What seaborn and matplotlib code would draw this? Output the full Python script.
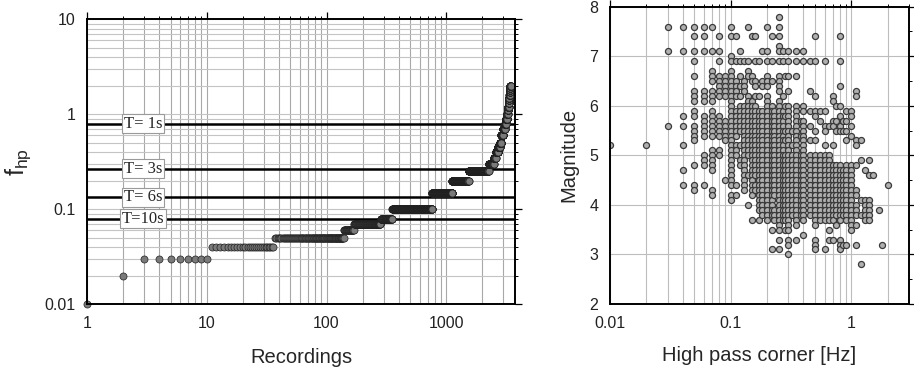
import numpy as np
import pandas as pd
import matplotlib
matplotlib.use("Agg")
import matplotlib.pyplot as plt
import matplotlib.ticker as mticker
import seaborn as sns

# ---------------- data: left panel (sorted high-pass corner per recording) ----------------
step_levels = [0.01, 0.02, 0.03, 0.04, 0.05, 0.06, 0.07, 0.08, 0.10, 0.15, 0.20, 0.25, 0.30,
               0.35, 0.40, 0.45, 0.50, 0.60, 0.70, 0.80, 0.90, 1.0, 1.1, 1.2, 1.3, 1.4, 1.5,
               1.6, 1.7, 1.8, 1.9, 2.0]
step_counts = [1, 1, 8, 26, 103, 30, 113, 71, 407, 360, 415, 719, 229,
               97, 120, 90, 90, 110, 80, 70, 60, 50, 35, 30, 20, 15, 20,
               15, 15, 15, 15, 15]
period_T = [1, 3, 6, 10]
period_labels = ["T= 1s", "T= 3s", "T= 6s", "T=10s"]

# ---------------- data: right panel (high-pass corner vs magnitude) ----------------
hp_corner = [0.01, 0.02, 0.03, 0.04, 0.05, 0.06, 0.07, 0.08, 0.09, 0.10,
             0.11, 0.12, 0.13, 0.14, 0.15, 0.16, 0.17, 0.18, 0.20, 0.22,
             0.23, 0.25, 0.27, 0.28, 0.30, 0.32, 0.35, 0.38, 0.40, 0.45,
             0.50, 0.55, 0.60, 0.65, 0.70, 0.75, 0.80, 0.85, 0.90, 1.0,
             1.1, 1.2, 1.3, 1.4, 1.5, 1.7, 1.8, 2.0]
magnitudes = [
    "5.2",
    "5.2",
    "7.6 7.1 5.6",
    "7.6 7.1 5.8 5.6 5.2 4.7 4.4",
    "7.6 7.4 7.1 6.9 6.6 6.3 6.2 6.1 5.9 5.8 5.6 5.5 5.4 5.3 4.8 4.4 4.3",
    "7.6 7.4 7.1 6.3 6.2 6.1 5.8 5.7 5.6 5.5 5.4 5.0 4.9 4.8 4.4",
    "7.6 7.1 6.7 6.6 6.5 6.3 6.2 6.1 5.9 5.8 5.7 5.6 5.5 5.4 5.1 5.0 4.9 4.8 4.7 4.3 4.2",
    "7.4 7.1 6.9 6.6-6.2 5.8-5.4 5.1 5.0",
    "6.6-6.2 5.7-5.3 4.5",
    "7.6 7.4 7.0 6.9 6.7-4.4 4.2 4.1",
    "7.4 6.9 6.5-6.2 5.9-5.4 5.2 5.1 5.0 4.4 4.2",
    "7.1 6.9 6.6 6.4 6.2 6.0-5.5 5.2 4.9 4.8",
    "6.9 6.5 6.4 6.3 6.0-4.3",
    "7.6 6.9 6.7 6.6 6.2 6.1 6.0-5.0 4.6 4.0",
    "7.4 6.6 6.5 6.1-4.2 3.7",
    "7.4 6.9 6.5 6.4 6.2 6.0-4.6 4.4 4.3",
    "6.9 6.2 5.9-3.9 3.7",
    "7.1 6.5 6.4 5.9-3.8",
    "7.6 7.1 6.9 6.6 6.5 6.4 6.2 6.1-3.7",
    "7.4 6.9 6.5 6.0-3.8 3.5 3.1",
    "5.9-4.2 3.9-3.7",
    "7.8 7.6 7.4 7.2 7.1 6.9 6.6 6.5 6.4 6.3 6.1 6.0-3.6 3.5 3.3 3.1",
    "7.1 6.9 6.2 5.9-3.7",
    "6.6 6.0 5.8 5.5 5.3 5.0-3.7 3.5",
    "7.1 6.9 6.6 6.3 6.0-3.6 3.5 3.3 3.2 3.0",
    "5.5 5.2 5.0-3.8",
    "7.1 6.9 6.6 6.0-3.6 3.3",
    "5.7 5.4 5.0-3.8",
    "7.1 6.9 6.0 5.9 5.7-3.7 3.4",
    "6.9 6.3 5.9 5.6 5.3 5.0-3.8",
    "7.4 6.9 6.2 5.9 5.8 5.5 5.3 5.0-3.6 3.3 3.2 3.1",
    "5.9 5.7 5.0-3.7",
    "6.9 5.9 5.6 5.5 5.2 5.0-3.7 3.1",
    "5.6 5.0-3.7 3.5 3.3",
    "6.2 6.1 5.7 5.6 5.2 4.8-3.7 3.3",
    "6.0 5.7 5.5 4.8-3.8 3.6",
    "7.4 6.9 6.4 6.0 5.8 5.6 5.5 4.8-3.7 3.3 3.2 3.1",
    "5.7 5.5 4.7-3.8 3.2",
    "5.9 5.7 5.5 5.3 4.8-3.7 3.2",
    "5.9 5.8 5.6 5.4 4.8-3.5",
    "6.3 6.2 5.3 5.2 4.8 4.3 4.2 4.0 3.9 3.8 3.6 3.2",
    "5.3 4.9 4.1 3.8 2.8",
    "4.7 4.1 4.0 3.9 3.8 3.7",
    "4.9 4.6 4.1 4.0 3.9 3.8 3.7",
    "4.6",
    "3.9",
    "3.2",
    "4.4",
]


def expand(spec):
    out = []
    for tok in spec.split():
        if "-" in tok:
            hi, lo = (float(v) for v in tok.split("-"))
            n = int(round((hi - lo) / 0.1))
            out.extend(round(hi - 0.1 * k, 1) for k in range(n + 1))
        else:
            out.append(float(tok))
    return out


# ---------------- build tables ----------------
left_y = np.repeat(step_levels, step_counts)
left_df = pd.DataFrame({"rec": np.arange(1, len(left_y) + 1), "fhp": left_y})

rows = []
for xc, spec in zip(hp_corner, magnitudes):
    for m in expand(spec):
        rows.append((xc, m))
right_df = pd.DataFrame(rows, columns=["fhp", "mag"])

# ---------------- style ----------------
sns.set_theme(style="white")
plt.rcParams["font.family"] = ["Liberation Sans", "DejaVu Sans"]
plt.rcParams["mathtext.fontset"] = "custom"
plt.rcParams["mathtext.rm"] = "Liberation Sans"
plt.rcParams["mathtext.it"] = "Liberation Sans"

fig = plt.figure(figsize=(9.14, 3.71), dpi=100)
W, H = 914.0, 371.0
axL = fig.add_axes([87 / W, 1 - 304.3 / H, 428 / W, 285 / H])
axR = fig.add_axes([610 / W, 1 - 304.0 / H, 299 / W, 297.3 / H])

# ---------------- left panel ----------------
axL.set_xscale("log")
axL.set_yscale("log")
axL.set_xlim(1, 3750)
axL.set_ylim(0.01, 10)
axL.grid(which="both", axis="x", color="#a8a8a8", lw=0.8)
axL.grid(which="both", axis="y", color="#c4c4c4", lw=0.8)
axL.set_axisbelow(True)

for T, lab in zip(period_T, period_labels):
    f = 0.8 / T
    axL.axhline(f, color="black", lw=1.8, zorder=2)
    axL.text(2.95, f, lab, ha="center", va="center", fontsize=12,
             family=["Liberation Serif", "DejaVu Serif"], zorder=4,
             bbox=dict(boxstyle="square,pad=0.1", fc="white", ec="#9a9a9a", lw=0.8))

sns.scatterplot(data=left_df, x="rec", y="fhp", ax=axL, color="#7a7a7a",
                edgecolor="#202020", linewidth=0.5, s=26, zorder=3, legend=False,
                clip_on=False)

axL.set_xticks([1, 10, 100, 1000])
axL.set_xticklabels(["1", "10", "100", "1000"])
axL.set_yticks([0.01, 0.1, 1, 10])
axL.set_yticklabels(["0.01", "0.1", "1", "10"])
axL.xaxis.set_minor_formatter(mticker.NullFormatter())
axL.yaxis.set_minor_formatter(mticker.NullFormatter())
axL.set_xlabel("Recordings", fontsize=14.5, labelpad=12)
axL.set_ylabel(r"$\mathregular{f_{hp}}$", fontsize=18, labelpad=8)

# ---------------- right panel ----------------
axR.set_xscale("log")
axR.set_xlim(0.01, 3)
axR.set_ylim(2, 8)
axR.grid(which="both", axis="x", color="#bdbdbd", lw=0.8)
axR.grid(which="major", axis="y", color="#bdbdbd", lw=0.8)
axR.set_axisbelow(True)

sns.scatterplot(data=right_df, x="fhp", y="mag", ax=axR, color="#b0b0b0",
                edgecolor="#3a3a3a", linewidth=0.9, s=19, zorder=3, legend=False)

axR.set_xticks([0.01, 0.1, 1])
axR.set_xticklabels(["0.01", "0.1", "1"])
axR.xaxis.set_minor_formatter(mticker.NullFormatter())
axR.set_yticks([2, 3, 4, 5, 6, 7, 8])
axR.yaxis.set_minor_locator(mticker.MultipleLocator(0.5))
axR.set_xlabel("High pass corner [Hz]", fontsize=14.5, labelpad=11)
axR.set_ylabel("Magnitude", fontsize=14.5, labelpad=8)

for ax in (axL, axR):
    for sp in ax.spines.values():
        sp.set_color("black")
        sp.set_linewidth(1.4)
        sp.set_zorder(5)
    ax.tick_params(which="both", direction="out", top=True, right=True,
                   colors="black", labelcolor="#222222", labelsize=11.5)
    ax.tick_params(which="major", length=5, width=0.9)
    ax.tick_params(which="minor", length=2.5, width=0.7)
    ax.tick_params(axis="both", which="both", labeltop=False, labelright=False)

fig.savefig("out.png", dpi=100)
